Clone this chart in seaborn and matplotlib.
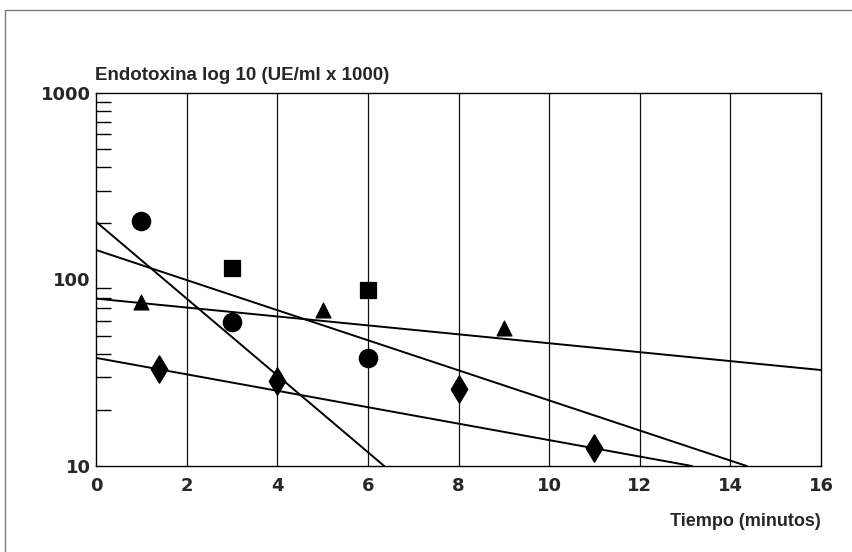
import numpy as np
import pandas as pd
import matplotlib
matplotlib.use("Agg")
import matplotlib.pyplot as plt
import seaborn as sns
from matplotlib.lines import Line2D
from matplotlib.ticker import FixedLocator, LogLocator, NullFormatter

# ---- data ----
circle_x = [1, 3, 6]
circle_y = [205, 59, 38]
square_x = [3, 6]
square_y = [115, 88]
triangle_x = [1, 5, 9]
triangle_y = [76, 69, 55]
diamond_x = [1.4, 4, 8, 11]
diamond_y = [33, 28.5, 26, 12.5]

# fitted lines: start / end points
line_x0 = [0, 0, 0, 0]
line_y0 = [204, 144, 79, 38]
line_x1 = [6.36, 14.36, 16, 13.15]
line_y1 = [10, 10, 32.7, 10]

xticks = [0, 2, 4, 6, 8, 10, 12, 14, 16]
yticks = [10, 100, 1000]
ytick_labels = ["10", "100", "1000"]
title = "Endotoxina log 10 (UE/ml x 1000)"
xlabel = "Tiempo (minutos)"

sns.set_theme(style="white")
plt.rcParams['font.family'] = ['Liberation Sans', 'DejaVu Sans']

fig = plt.figure(figsize=(8.52, 5.52), dpi=100)
ax = fig.add_axes([96 / 852, 1 - 466 / 552, (821 - 96) / 852, (466 - 93) / 552])

pts = pd.concat([
    pd.DataFrame({"x": circle_x, "y": circle_y, "s": "c"}),
    pd.DataFrame({"x": square_x, "y": square_y, "s": "s"}),
    pd.DataFrame({"x": triangle_x, "y": triangle_y, "s": "t"}),
    pd.DataFrame({"x": diamond_x, "y": diamond_y, "s": "d"}),
])

lines = []
for i in range(len(line_x0)):
    lines.append(pd.DataFrame({"x": [line_x0[i], line_x1[i]],
                               "y": [line_y0[i], line_y1[i]], "id": i}))
lines = pd.concat(lines)

ax.set_yscale("log")
for xv in xticks[1:-1]:
    ax.axvline(xv, color="#111111", lw=0.9, zorder=1)

sns.lineplot(data=lines, x="x", y="y", units="id", estimator=None,
             color="black", lw=1.4, ax=ax, legend=False, zorder=3)

sizes = {"c": 170, "s": 130, "t": 115, "d": 190}
for key, m in [("c", "o"), ("s", "s"), ("t", "^"), ("d", "d")]:
    sub = pts[pts["s"] == key]
    sns.scatterplot(data=sub, x="x", y="y", marker=m, s=sizes[key],
                    color="black", edgecolor="black", ax=ax, legend=False,
                    zorder=4)

tick_font = dict(fontsize=13, fontweight="bold", family=["DejaVu Sans"])
ax.set_xlim(0, 16)
ax.set_ylim(10, 1000)
ax.set_xticks(xticks)
ax.set_xticklabels([str(v) for v in xticks], **tick_font)
ax.yaxis.set_major_locator(FixedLocator(yticks))
ax.set_yticklabels(ytick_labels, **tick_font)
ax.yaxis.set_minor_locator(LogLocator(base=10, subs=np.arange(2, 10)))
ax.yaxis.set_minor_formatter(NullFormatter())
ax.tick_params(axis="y", which="minor", direction="in", length=11, width=1,
               left=True, color="black")
ax.tick_params(axis="y", which="major", length=0, pad=4)
ax.tick_params(axis="x", which="major", length=0, pad=8)
ax.set_xlabel("")
ax.set_ylabel("")
for side in ["left", "bottom", "top", "right"]:
    ax.spines[side].set_visible(True)
    ax.spines[side].set_color("black")
    ax.spines[side].set_linewidth(1.0)
ax.grid(False)

fig.text(95 / 852, 1 - 76 / 552, title, fontsize=13.5, fontweight="bold",
         ha="left", va="center")
fig.text(821 / 852, 1 - 521 / 552, xlabel, fontsize=13, fontweight="bold",
         ha="right", va="center")

# page border (top and left)
fig.add_artist(Line2D([5 / 852, 1.0], [1 - 10 / 552, 1 - 10 / 552],
                      transform=fig.transFigure, color="#777777", lw=1))
fig.add_artist(Line2D([5 / 852, 5 / 852], [0, 1 - 10 / 552],
                      transform=fig.transFigure, color="#777777", lw=1))

fig.savefig("out.png", dpi=100)
